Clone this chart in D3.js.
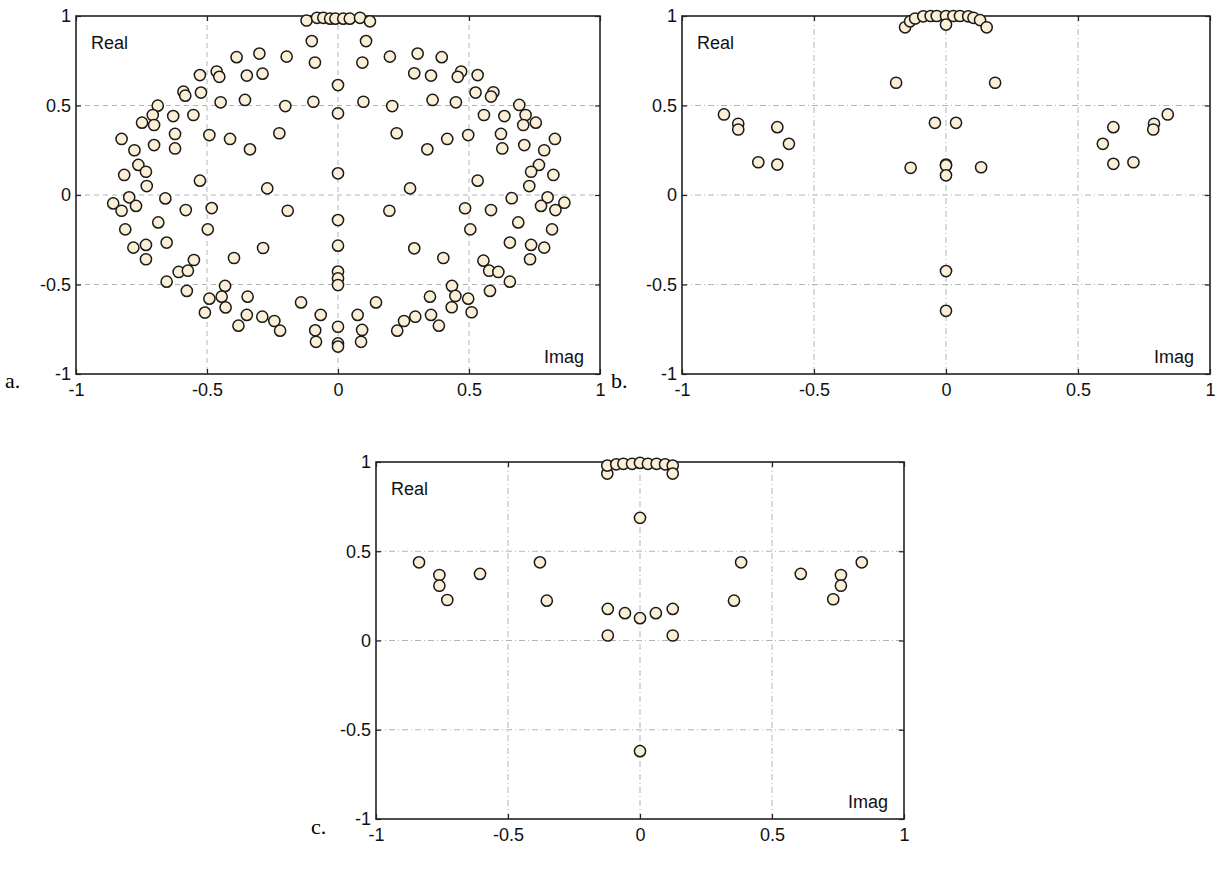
<!DOCTYPE html>
<html>
<head>
<meta charset="utf-8">
<script src="https://cdn.jsdelivr.net/npm/d3@7"></script>
<style>
  body { margin: 0; background: #fff; }
  svg { display: block; }
  .tick text { font-family: "Liberation Sans", Arial, sans-serif; font-size: 18px; fill: #111; }
</style>
</head>
<body>
<svg id="chart" width="1216" height="873"></svg>
<script>
const TICKS = [-1, -0.5, 0, 0.5, 1];
const GRID = [-0.5, 0, 0.5];

// panel a: [imag, real]
const pointsA = [
  [-0.12, 0.975], [-0.08, 0.99], [-0.056, 0.99], [-0.03, 0.985], [-0.01, 0.985],
  [0.02, 0.985], [0.045, 0.985], [0.084, 0.99], [0.122, 0.97],
  [-0.10, 0.86], [-0.088, 0.74], [-0.387, 0.77], [-0.30, 0.79], [-0.196, 0.773],
  [-0.527, 0.67], [-0.463, 0.69], [-0.453, 0.66], [-0.348, 0.667], [-0.288, 0.678],
  [-0.59, 0.577], [-0.583, 0.555], [-0.523, 0.572], [-0.688, 0.499], [-0.707, 0.447],
  [-0.748, 0.404], [-0.702, 0.391], [-0.629, 0.441], [-0.552, 0.447], [-0.448, 0.518],
  [-0.355, 0.531], [-0.201, 0.497], [-0.094, 0.521], [-0.826, 0.313], [-0.777, 0.25],
  [-0.702, 0.279], [-0.622, 0.341], [-0.622, 0.26], [-0.491, 0.335], [-0.412, 0.313],
  [-0.336, 0.255], [-0.224, 0.345], [-0.762, 0.168], [-0.733, 0.13], [-0.816, 0.112],
  [-0.73, 0.05], [-0.527, 0.08], [-0.27, 0.037],
  [0, 0.614], [0, 0.456], [0, 0.121],
  [0.107, 0.86], [0.093, 0.74], [0.198, 0.773], [0.304, 0.79], [0.396, 0.77],
  [0.291, 0.68], [0.355, 0.667], [0.47, 0.69], [0.457, 0.66], [0.533, 0.67],
  [0.525, 0.572], [0.593, 0.574], [0.584, 0.55], [0.097, 0.521], [0.207, 0.497],
  [0.361, 0.531], [0.45, 0.518], [0.692, 0.503], [0.716, 0.447], [0.707, 0.391],
  [0.755, 0.404], [0.557, 0.447], [0.635, 0.441], [0.224, 0.345], [0.417, 0.313],
  [0.497, 0.335], [0.622, 0.341], [0.627, 0.26], [0.711, 0.279], [0.828, 0.313],
  [0.787, 0.25], [0.341, 0.255], [0.767, 0.168], [0.737, 0.13], [0.822, 0.112],
  [0.73, 0.05], [0.533, 0.08], [0.275, 0.037],
  [0.663, -0.018], [0.80, -0.013], [0.83, -0.084], [0.775, -0.061], [0.864, -0.043],
  [-0.858, -0.047], [-0.797, -0.013], [-0.826, -0.088], [-0.771, -0.061], [-0.659, -0.019],
  [-0.812, -0.192], [-0.686, -0.153], [-0.581, -0.084], [-0.482, -0.073], [-0.497, -0.192],
  [-0.781, -0.294], [-0.733, -0.279], [-0.654, -0.266], [-0.733, -0.359], [-0.55, -0.363],
  [-0.608, -0.43], [-0.573, -0.423], [-0.654, -0.484], [-0.577, -0.536], [-0.431, -0.508],
  [-0.444, -0.568], [-0.429, -0.628], [-0.491, -0.579], [-0.508, -0.657], [-0.397, -0.352],
  [-0.286, -0.296], [-0.192, -0.088], [-0.345, -0.568], [-0.348, -0.67], [-0.38, -0.73],
  [-0.289, -0.68], [-0.243, -0.704], [-0.221, -0.758], [-0.141, -0.6], [-0.066, -0.67],
  [-0.087, -0.756], [-0.084, -0.82],
  [0, -0.14], [0, -0.283], [0, -0.428], [0, -0.466], [0, -0.503], [0, -0.736],
  [0, -0.829], [0, -0.847],
  [0.196, -0.088], [0.291, -0.298], [0.402, -0.352], [0.485, -0.074], [0.505, -0.192],
  [0.584, -0.084], [0.688, -0.153], [0.656, -0.266], [0.737, -0.279], [0.787, -0.294],
  [0.733, -0.359], [0.817, -0.192], [0.555, -0.367], [0.577, -0.423], [0.612, -0.43],
  [0.656, -0.484], [0.58, -0.536], [0.435, -0.508], [0.448, -0.564], [0.497, -0.579],
  [0.51, -0.655], [0.434, -0.627], [0.351, -0.568], [0.355, -0.67], [0.385, -0.73],
  [0.295, -0.68], [0.252, -0.704], [0.226, -0.758], [0.145, -0.6], [0.075, -0.67],
  [0.092, -0.754], [0.088, -0.82]
];

// panel b
const pointsB = [
  [-0.155, 0.937], [-0.136, 0.97], [-0.117, 0.986], [-0.086, 0.998], [-0.058, 1.0],
  [-0.035, 1.0], [0, 1.0], [0.028, 1.0], [0.053, 1.0], [0.084, 0.998],
  [0.104, 0.99], [0.129, 0.977], [0.154, 0.937], [0, 0.952],
  [-0.189, 0.627], [0.186, 0.627], [-0.042, 0.403], [0.038, 0.403],
  [-0.134, 0.152], [0.133, 0.155], [0, 0.17], [0, 0.165], [0, 0.11],
  [-0.841, 0.45], [-0.787, 0.398], [-0.787, 0.366], [-0.639, 0.379], [-0.595, 0.286],
  [-0.711, 0.183], [-0.639, 0.17],
  [0.84, 0.45], [0.788, 0.398], [0.785, 0.366], [0.634, 0.379], [0.594, 0.286],
  [0.71, 0.183], [0.634, 0.174],
  [0, -0.425], [0, -0.647]
];

// panel c
const pointsC = [
  [-0.124, 0.935], [-0.124, 0.98], [-0.09, 0.987], [-0.063, 0.99], [-0.03, 0.99],
  [0, 0.995], [0.03, 0.99], [0.063, 0.99], [0.095, 0.987], [0.124, 0.98], [0.124, 0.935],
  [0, 0.687],
  [-0.837, 0.438], [-0.76, 0.367], [-0.76, 0.307], [-0.73, 0.227], [-0.606, 0.373],
  [-0.379, 0.438], [-0.353, 0.223],
  [0.84, 0.438], [0.761, 0.367], [0.761, 0.307], [0.732, 0.231], [0.609, 0.373],
  [0.383, 0.438], [0.356, 0.223],
  [-0.122, 0.177], [-0.057, 0.153], [0, 0.125], [0.06, 0.153], [0.124, 0.177],
  [-0.122, 0.028], [0.124, 0.028],
  [0, -0.62]
];

const panels = [
  { name: "a.", data: pointsA, left: 76, right: 600, top: 16, bottom: 374, dash: "5,4", labelX: 5, labelY: 388 },
  { name: "b.", data: pointsB, left: 682, right: 1210, top: 16, bottom: 374, dash: "6,3,1,3", labelX: 611, labelY: 388 },
  { name: "c.", data: pointsC, left: 376, right: 904, top: 462, bottom: 819, dash: "6,3,1,3", labelX: 311, labelY: 834 }
];

const svg = d3.select("#chart");
const fmt = (d) => String(d);

panels.forEach((p) => {
  const x = d3.scaleLinear().domain([-1, 1]).range([p.left, p.right]);
  const y = d3.scaleLinear().domain([-1, 1]).range([p.bottom, p.top]);
  const g = svg.append("g");

  // grid
  const grid = g.append("g")
    .attr("stroke", "#b4b4b4")
    .attr("stroke-width", 1)
    .attr("stroke-dasharray", p.dash);
  grid.selectAll("line.gx").data(GRID).join("line")
    .attr("class", "gx")
    .attr("x1", (d) => x(d)).attr("x2", (d) => x(d))
    .attr("y1", p.top).attr("y2", p.bottom);
  grid.selectAll("line.gy").data(GRID).join("line")
    .attr("class", "gy")
    .attr("y1", (d) => y(d)).attr("y2", (d) => y(d))
    .attr("x1", p.left).attr("x2", p.right);

  // axes, ticks pointing inward
  const styleAxis = (sel) => {
    sel.select(".domain").remove();
    sel.selectAll(".tick line").attr("stroke", "#222").attr("stroke-width", 1.2);
  };
  g.append("g").attr("transform", `translate(0,${p.bottom})`)
    .call(d3.axisBottom(x).tickValues(TICKS).tickFormat(fmt).tickSize(-5).tickPadding(9))
    .call(styleAxis);
  g.append("g").attr("transform", `translate(${p.left},0)`)
    .call(d3.axisLeft(y).tickValues(TICKS).tickFormat(fmt).tickSize(-5).tickPadding(5))
    .call(styleAxis);
  g.append("g").attr("transform", `translate(0,${p.top})`)
    .call(d3.axisTop(x).tickValues(TICKS).tickFormat("").tickSize(-5))
    .call(styleAxis);
  g.append("g").attr("transform", `translate(${p.right},0)`)
    .call(d3.axisRight(y).tickValues(TICKS).tickFormat("").tickSize(-5))
    .call(styleAxis);

  g.append("rect")
    .attr("x", p.left).attr("y", p.top)
    .attr("width", p.right - p.left).attr("height", p.bottom - p.top)
    .attr("fill", "none").attr("stroke", "#222").attr("stroke-width", 1.6);

  g.append("text")
    .attr("x", p.left + 15).attr("y", p.top + 33)
    .attr("font-family", "Liberation Sans, Arial, sans-serif")
    .attr("font-size", 18).attr("fill", "#111")
    .text("Real");
  g.append("text")
    .attr("x", p.right - 16).attr("y", p.bottom - 11)
    .attr("text-anchor", "end")
    .attr("font-family", "Liberation Sans, Arial, sans-serif")
    .attr("font-size", 18).attr("fill", "#111")
    .text("Imag");

  g.append("g").selectAll("circle").data(p.data).join("circle")
    .attr("cx", (d) => x(d[0]))
    .attr("cy", (d) => y(d[1]))
    .attr("r", 5.6)
    .attr("fill", "#fbefd6")
    .attr("stroke", "#1a1a1a")
    .attr("stroke-width", 1.5);

  svg.append("text")
    .attr("x", p.labelX).attr("y", p.labelY)
    .attr("font-family", "Liberation Serif, Times New Roman, serif")
    .attr("font-size", 22).attr("fill", "#000")
    .text(p.name);
});
</script>
</body>
</html>
